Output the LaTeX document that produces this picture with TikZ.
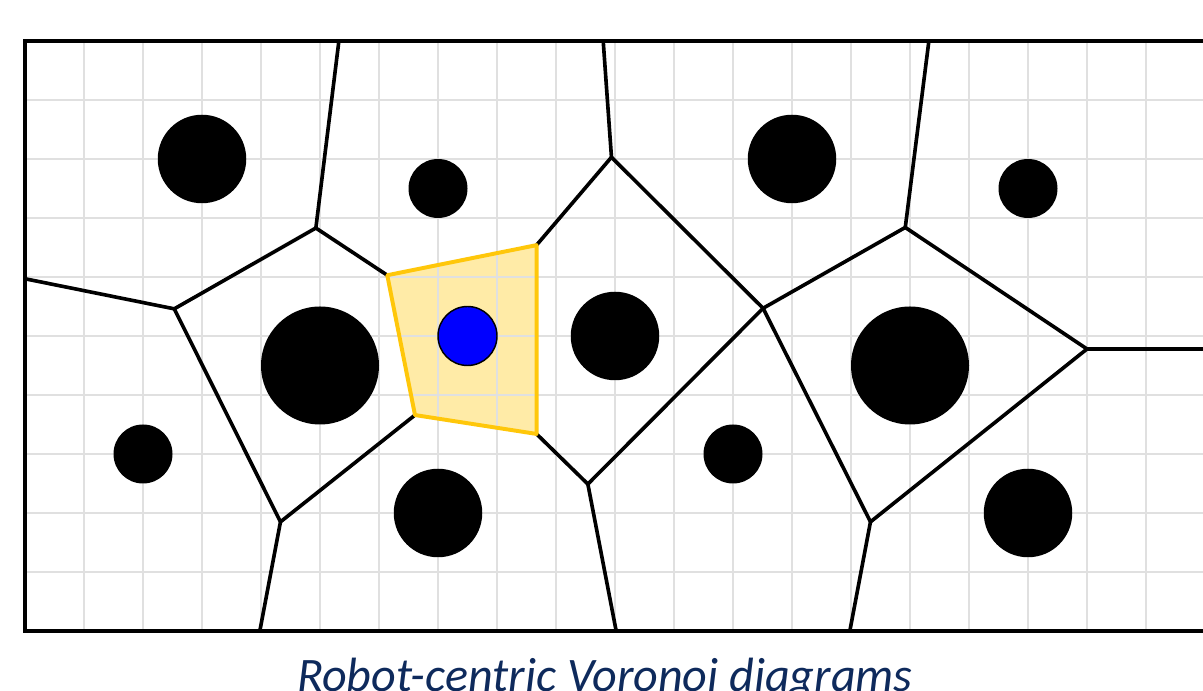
\documentclass[tikz,border=0pt]{standalone}
\usepackage{fontspec}
\newfontfamily\captionfont{Carlito}
\usetikzlibrary{calc}
\definecolor{gridgray}{HTML}{E0E0E0}
\definecolor{celledge}{HTML}{FFC70A}
\definecolor{robotblue}{HTML}{0000FF}
\definecolor{captionnavy}{HTML}{0E2A5C}

\begin{document}
\begin{tikzpicture}[
  x=1cm,
  y=1cm,
  obstacle/.style={circle, fill=black, draw=none, inner sep=0pt},
  obssmall/.style={obstacle, minimum size=1.0cm},
  obsmid/.style={obstacle, minimum size=1.5cm},
  obsbig/.style={obstacle, minimum size=2.0cm},
  robot/.style={circle, fill=robotblue, draw=black, line width=0.7pt,
    inner sep=0pt, minimum size=1.0cm},
  vedge/.style={draw=black, line width=1.75pt, line cap=round, line join=round},
  cellfill/.style={fill=celledge, fill opacity=0.36, draw=none},
  cellborder/.style={draw=celledge, line width=1.9pt, line join=round}
]
\useasboundingbox (-0.4237,-1.017) rectangle (19.966,10.695);

% Robot cell (filled below the grid)
\coordinate (cellNW) at (6.14,6.03);
\coordinate (cellNE) at (8.67,6.54);
\coordinate (cellSE) at (8.67,3.34);
\coordinate (cellSW) at (6.61,3.66);
\fill[cellfill] (cellNW) -- (cellNE) -- (cellSE) -- (cellSW) -- cycle;

% Workspace grid
\draw[gridgray, line width=0.6pt] (0,0) grid (20,10);

% Voronoi vertices
\coordinate (vNW) at (4.93,6.83);
\coordinate (vW) at (2.53,5.46);
\coordinate (vSW) at (4.33,1.85);
\coordinate (vN) at (9.94,8.03);
\coordinate (vS) at (9.54,2.49);
\coordinate (vC) at (12.51,5.47);
\coordinate (vNE) at (14.92,6.84);
\coordinate (vSE) at (14.33,1.85);
\coordinate (vE) at (18.00,4.78);
% where the edges meet the border
\coordinate (topA) at (5.32,10);
\coordinate (topB) at (9.80,10);
\coordinate (topC) at (15.32,10);
\coordinate (leftA) at (0,5.97);
\coordinate (rightA) at (20,4.78);
\coordinate (botA) at (3.98,0);
\coordinate (botB) at (10.02,0);
\coordinate (botC) at (13.98,0);

% Voronoi edges
\draw[vedge] (topA) -- (vNW);
\draw[vedge] (vNW) -- (vW);
\draw[vedge] (vW) -- (leftA);
\draw[vedge] (vW) -- (vSW);
\draw[vedge] (vSW) -- (botA);
\draw[vedge] (vSW) -- (cellSW);
\draw[vedge] (vNW) -- (cellNW);
\draw[vedge] (cellNE) -- (vN);
\draw[vedge] (vN) -- (topB);
\draw[vedge] (vN) -- (vC);
\draw[vedge] (cellSE) -- (vS);
\draw[vedge] (vS) -- (botB);
\draw[vedge] (vS) -- (vC);
\draw[vedge] (vC) -- (vNE);
\draw[vedge] (vNE) -- (topC);
\draw[vedge] (vNE) -- (vE);
\draw[vedge] (vE) -- (rightA);
\draw[vedge] (vC) -- (vSE);
\draw[vedge] (vSE) -- (vE);
\draw[vedge] (vSE) -- (botC);

% Robot cell border
\draw[cellborder] (cellNW) -- (cellNE) -- (cellSE) -- (cellSW) -- cycle;

% Obstacles and robot
\node[obsmid] (obsA) at (3,8) {};
\node[obssmall] (obsB) at (7,7.5) {};
\node[obsmid] (obsC) at (13,8) {};
\node[obssmall] (obsD) at (17,7.5) {};
\node[obsbig] (obsE) at (5,4.5) {};
\node[obsmid] (obsF) at (10,5) {};
\node[obsbig] (obsG) at (15,4.5) {};
\node[obssmall] (obsH) at (2,3) {};
\node[obsmid] (obsI) at (7,2) {};
\node[obssmall] (obsJ) at (12,3) {};
\node[obsmid] (obsK) at (17,2) {};
\node[robot] (robot) at (7.5,5) {};

% Border
\draw[line width=2pt] (0,0) rectangle (20,10);

% Caption
\node[anchor=base, text=captionnavy,
      font=\captionfont\itshape\fontsize{23.2}{28}\selectfont] (caption)
      at (9.83,-1.03) {Robot-centric Voronoi diagrams};
\end{tikzpicture}
\end{document}
